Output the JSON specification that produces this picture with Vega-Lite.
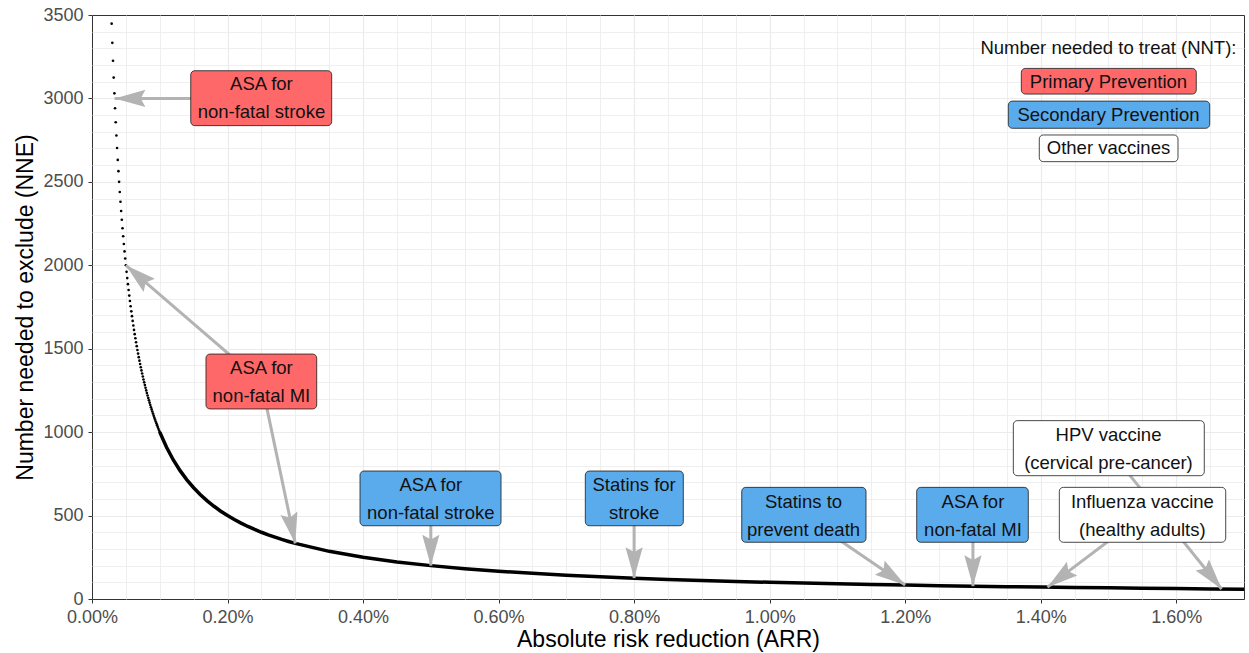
{
  "$schema": "https://vega.github.io/schema/vega-lite/v6.json",
  "autosize": {"type": "none"},
  "width": 1152,
  "height": 584,
  "padding": {"left": 92, "top": 15, "right": 5, "bottom": 54},
  "background": "white",
  "config": {
    "font": "Liberation Sans",
    "view": {"stroke": "#333333", "strokeWidth": 1}
  },
  "datasets": {
    "dots": [
      {"arr":0.00029,"nne":3448.3},{"arr":0.00030,"nne":3333.3},{"arr":0.00031,"nne":3225.8},{"arr":0.00032,"nne":3125},
      {"arr":0.00033,"nne":3030.3},{"arr":0.00034,"nne":2941.2},{"arr":0.00035,"nne":2857.1},{"arr":0.00036,"nne":2777.8},
      {"arr":0.00037,"nne":2702.7},{"arr":0.00038,"nne":2631.6},{"arr":0.00039,"nne":2564.1},{"arr":0.00040,"nne":2500},
      {"arr":0.00041,"nne":2439.0},{"arr":0.00042,"nne":2381.0},{"arr":0.00043,"nne":2325.6},{"arr":0.00044,"nne":2272.7},
      {"arr":0.00045,"nne":2222.2},{"arr":0.00046,"nne":2173.9},{"arr":0.00047,"nne":2127.7},{"arr":0.00048,"nne":2083.3},
      {"arr":0.00049,"nne":2040.8},{"arr":0.00050,"nne":2000},{"arr":0.00051,"nne":1960.8},{"arr":0.00052,"nne":1923.1},
      {"arr":0.00053,"nne":1886.8},{"arr":0.00054,"nne":1851.9},{"arr":0.00055,"nne":1818.2},{"arr":0.00056,"nne":1785.7},
      {"arr":0.00057,"nne":1754.4},{"arr":0.00058,"nne":1724.1},{"arr":0.00059,"nne":1694.9},{"arr":0.00060,"nne":1666.7},
      {"arr":0.00061,"nne":1639.3},{"arr":0.00062,"nne":1612.9},{"arr":0.00063,"nne":1587.3},{"arr":0.00064,"nne":1562.5},
      {"arr":0.00065,"nne":1538.5},{"arr":0.00066,"nne":1515.2},{"arr":0.00067,"nne":1492.5},{"arr":0.00068,"nne":1470.6},
      {"arr":0.00069,"nne":1449.3},{"arr":0.00070,"nne":1428.6},{"arr":0.00071,"nne":1408.5},{"arr":0.00072,"nne":1388.9},
      {"arr":0.00073,"nne":1369.9},{"arr":0.00074,"nne":1351.4},{"arr":0.00075,"nne":1333.3},{"arr":0.00076,"nne":1315.8},
      {"arr":0.00077,"nne":1298.7},{"arr":0.00078,"nne":1282.1},{"arr":0.00079,"nne":1265.8},{"arr":0.00080,"nne":1250},
      {"arr":0.00081,"nne":1234.6},{"arr":0.00082,"nne":1219.5},{"arr":0.00083,"nne":1204.8},{"arr":0.00084,"nne":1190.5},
      {"arr":0.00085,"nne":1176.5},{"arr":0.00086,"nne":1162.8},{"arr":0.00087,"nne":1149.4},{"arr":0.00088,"nne":1136.4},
      {"arr":0.00089,"nne":1123.6},{"arr":0.00090,"nne":1111.1},{"arr":0.00091,"nne":1098.9},{"arr":0.00092,"nne":1087.0},
      {"arr":0.00093,"nne":1075.3},{"arr":0.00094,"nne":1063.8},{"arr":0.00095,"nne":1052.6},{"arr":0.00096,"nne":1041.7},
      {"arr":0.00097,"nne":1030.9},{"arr":0.00098,"nne":1020.4},{"arr":0.00099,"nne":1010.1},{"arr":0.00100,"nne":1000}
    ],
    "curve": [
      {"arr":0.0010,"nne":1000},{"arr":0.0011,"nne":909.1},{"arr":0.0012,"nne":833.3},{"arr":0.0013,"nne":769.2},
      {"arr":0.0014,"nne":714.3},{"arr":0.0015,"nne":666.7},{"arr":0.0016,"nne":625},{"arr":0.0017,"nne":588.2},
      {"arr":0.0018,"nne":555.6},{"arr":0.0019,"nne":526.3},{"arr":0.0020,"nne":500},{"arr":0.0021,"nne":476.2},
      {"arr":0.0022,"nne":454.5},{"arr":0.0023,"nne":434.8},{"arr":0.0024,"nne":416.7},{"arr":0.0025,"nne":400},
      {"arr":0.0026,"nne":384.6},{"arr":0.0027,"nne":370.4},{"arr":0.0028,"nne":357.1},{"arr":0.0029,"nne":344.8},
      {"arr":0.0030,"nne":333.3},{"arr":0.0035,"nne":285.7},{"arr":0.0040,"nne":250},{"arr":0.0045,"nne":222.2},
      {"arr":0.0050,"nne":200},{"arr":0.0055,"nne":181.8},{"arr":0.0060,"nne":166.7},{"arr":0.0065,"nne":153.8},
      {"arr":0.0070,"nne":142.9},{"arr":0.0075,"nne":133.3},{"arr":0.0080,"nne":125},{"arr":0.0085,"nne":117.6},
      {"arr":0.0090,"nne":111.1},{"arr":0.0095,"nne":105.3},{"arr":0.0100,"nne":100},{"arr":0.0105,"nne":95.2},
      {"arr":0.0110,"nne":90.9},{"arr":0.0115,"nne":87.0},{"arr":0.0120,"nne":83.3},{"arr":0.0125,"nne":80},
      {"arr":0.0130,"nne":76.9},{"arr":0.0135,"nne":74.1},{"arr":0.0140,"nne":71.4},{"arr":0.0145,"nne":69.0},
      {"arr":0.0150,"nne":66.7},{"arr":0.0155,"nne":64.5},{"arr":0.0160,"nne":62.5},{"arr":0.0165,"nne":60.6},
      {"arr":0.0170,"nne":58.8}
    ],
    "arrows": [
      {"x1":0.0025,"y1":3000,"x2":0.000333,"y2":3000},
      {"x1":0.0025,"y1":1300,"x2":0.0005,"y2":2000},
      {"x1":0.0025,"y1":1300,"x2":0.003,"y2":333.3},
      {"x1":0.005,"y1":600,"x2":0.005,"y2":200},
      {"x1":0.008,"y1":600,"x2":0.008,"y2":125},
      {"x1":0.0105,"y1":500,"x2":0.012,"y2":83.3},
      {"x1":0.013,"y1":500,"x2":0.013,"y2":76.9},
      {"x1":0.015,"y1":900,"x2":0.01667,"y2":60},
      {"x1":0.0155,"y1":500,"x2":0.0141,"y2":71}
    ],
    "labels": [
      {"label":"ASA for\nnon-fatal stroke","cat":"Primary","cx":0.0025,"cy":3000,"x0":0.001457,"x1":0.003537,"y0":2837,"y1":3166},
      {"label":"ASA for\nnon-fatal MI","cat":"Primary","cx":0.0025,"cy":1300,"x0":0.001682,"x1":0.003316,"y0":1139,"y1":1468},
      {"label":"ASA for\nnon-fatal stroke","cat":"Secondary","cx":0.005,"cy":600,"x0":0.003955,"x1":0.006036,"y0":439,"y1":767},
      {"label":"Statins for\nstroke","cat":"Secondary","cx":0.008,"cy":600,"x0":0.00728,"x1":0.008726,"y0":439,"y1":767},
      {"label":"Statins to\nprevent death","cat":"Secondary","cx":0.0105,"cy":500,"x0":0.009588,"x1":0.011422,"y0":340,"y1":669},
      {"label":"ASA for\nnon-fatal MI","cat":"Secondary","cx":0.013,"cy":500,"x0":0.01217,"x1":0.013817,"y0":340,"y1":669},
      {"label":"HPV vaccine\n(cervical pre-cancer)","cat":"Other","cx":0.015,"cy":900,"x0":0.013596,"x1":0.016414,"y0":739,"y1":1069},
      {"label":"Influenza vaccine\n(healthy adults)","cat":"Other","cx":0.0155,"cy":500,"x0":0.014275,"x1":0.01673,"y0":340,"y1":669},
      {"label":"Primary Prevention","cat":"Primary","cx":0.015,"cy":3100,"x0":0.013714,"x1":0.016296,"y0":3026,"y1":3180},
      {"label":"Secondary Prevention","cat":"Secondary","cx":0.015,"cy":2900,"x0":0.013522,"x1":0.016494,"y0":2821,"y1":2984},
      {"label":"Other vaccines","cat":"Other","cx":0.015,"cy":2700,"x0":0.013979,"x1":0.016026,"y0":2621,"y1":2781},
      {"label":"Number needed to treat (NNT):","cat":"none","cx":0.015,"cy":3300}
    ]
  },
  "layer": [
    {
      "data": {"name": "curve"},
      "mark": {"type": "line", "color": "black", "strokeWidth": 3.5},
      "encoding": {
        "x": {
          "field": "arr", "type": "quantitative",
          "scale": {"domain": [0, 0.017], "nice": false, "zero": true},
          "axis": {
            "title": "Absolute risk reduction (ARR)",
            "values": [0,0.0005,0.001,0.0015,0.002,0.0025,0.003,0.0035,0.004,0.0045,0.005,0.0055,0.006,0.0065,0.007,0.0075,0.008,0.0085,0.009,0.0095,0.01,0.0105,0.011,0.0115,0.012,0.0125,0.013,0.0135,0.014,0.0145,0.015,0.0155,0.016,0.0165,0.017],
            "tickCount": 200,
            "format": ".2%",
            "labelExpr": "abs(datum.value*500 - round(datum.value*500)) < 0.001 ? datum.label : ''",
            "labelOverlap": false,
            "labelFlush": false,
            "labelBound": false,
            "domain": false,
            "tickSize": 4,
            "tickColor": "#333333",
            "tickOpacity": {"condition": {"test": "abs(datum.value*500 - round(datum.value*500)) < 0.001", "value": 1}, "value": 0},
            "gridColor": "#EBEBEB",
            "gridOpacity": {"condition": {"test": "datum.value <= 0 || datum.value >= 0.0169", "value": 0}, "value": 1},
            "gridWidth": {"condition": {"test": "abs(datum.value*500 - round(datum.value*500)) < 0.001", "value": 1.2}, "value": 0.8},
            "labelColor": "#4D4D4D",
            "labelFontSize": 18,
            "labelPadding": 5,
            "titleFontSize": 23,
            "titleFontWeight": "normal",
            "titleColor": "black",
            "titlePadding": 2
          }
        },
        "y": {
          "field": "nne", "type": "quantitative",
          "scale": {"domain": [0, 3500], "nice": false},
          "axis": {
            "title": "Number needed to exclude (NNE)",
            "values": [0,100,200,300,400,500,600,700,800,900,1000,1100,1200,1300,1400,1500,1600,1700,1800,1900,2000,2100,2200,2300,2400,2500,2600,2700,2800,2900,3000,3100,3200,3300,3400,3500],
            "tickCount": 200,
            "format": "d",
            "labelExpr": "datum.value % 500 == 0 ? datum.label : ''",
            "labelOverlap": false,
            "labelFlush": false,
            "labelBound": false,
            "domain": false,
            "tickSize": 4,
            "tickColor": "#333333",
            "tickOpacity": {"condition": {"test": "datum.value % 500 == 0", "value": 1}, "value": 0},
            "gridColor": "#EBEBEB",
            "gridOpacity": {"condition": {"test": "datum.value <= 0 || datum.value >= 3500", "value": 0}, "value": 1},
            "gridWidth": {"condition": {"test": "datum.value % 500 == 0", "value": 1.2}, "value": 0.8},
            "labelColor": "#4D4D4D",
            "labelFontSize": 18,
            "labelPadding": 5,
            "titleFontSize": 23,
            "titleFontWeight": "normal",
            "titleColor": "black",
            "titlePadding": 5
          }
        }
      }
    },
    {
      "data": {"name": "dots"},
      "mark": {"type": "circle", "color": "black", "size": 7, "opacity": 1},
      "encoding": {
        "x": {"field": "arr", "type": "quantitative"},
        "y": {"field": "nne", "type": "quantitative"}
      }
    },
    {
      "data": {"name": "arrows"},
      "mark": {"type": "rule", "color": "#B3B3B3", "strokeWidth": 3},
      "encoding": {
        "x": {"field": "x1", "type": "quantitative"},
        "y": {"field": "y1", "type": "quantitative"},
        "x2": {"field": "x2"},
        "y2": {"field": "y2"}
      }
    },
    {
      "data": {"name": "arrows"},
      "transform": [
        {"calculate": "atan2((datum.x2 - datum.x1) * 67764.7, (datum.y2 - datum.y1) * 0.166857) * 180 / PI", "as": "ang"}
      ],
      "mark": {"type": "point", "shape": "M0,0L-0.28,1L0,0.85L0.28,1Z", "filled": true, "size": 3800, "color": "#B3B3B3", "opacity": 1, "strokeWidth": 0},
      "encoding": {
        "x": {"field": "x2", "type": "quantitative"},
        "y": {"field": "y2", "type": "quantitative"},
        "angle": {"field": "ang", "type": "quantitative", "scale": null}
      }
    },
    {
      "data": {"name": "labels"},
      "transform": [{"filter": "datum.cat != 'none'"}],
      "mark": {"type": "rect", "stroke": "#1a1a1a", "strokeWidth": 0.8, "cornerRadius": 4},
      "encoding": {
        "x": {"field": "x0", "type": "quantitative"},
        "x2": {"field": "x1"},
        "y": {"field": "y0", "type": "quantitative"},
        "y2": {"field": "y1"},
        "fill": {
          "field": "cat", "type": "nominal",
          "scale": {"domain": ["Primary", "Secondary", "Other"], "range": ["#FF6868", "#5AABEC", "#FFFFFF"]},
          "legend": null
        }
      }
    },
    {
      "data": {"name": "labels"},
      "transform": [{"filter": "indexof(datum.label, '\\n') >= 0"}],
      "mark": {"type": "text", "align": "center", "baseline": "middle", "dy": -14, "fontSize": 18.5, "lineHeight": 28, "lineBreak": "\n", "color": "#111111"},
      "encoding": {
        "x": {"field": "cx", "type": "quantitative"},
        "y": {"field": "cy", "type": "quantitative"},
        "text": {"field": "label"}
      }
    },
    {
      "data": {"name": "labels"},
      "transform": [{"filter": "indexof(datum.label, '\\n') < 0"}],
      "mark": {"type": "text", "align": "center", "baseline": "middle", "fontSize": 18.5, "color": "#111111"},
      "encoding": {
        "x": {"field": "cx", "type": "quantitative"},
        "y": {"field": "cy", "type": "quantitative"},
        "text": {"field": "label"}
      }
    }
  ]
}
